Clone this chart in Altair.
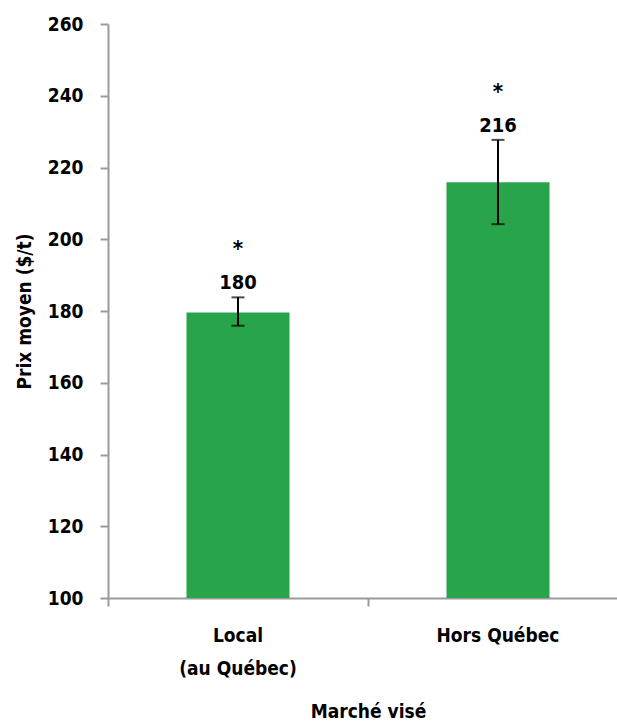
import altair as alt
import pandas as pd

categories = ["Local|(au Québec)", "Hors Québec"]
means = [179.6, 215.9]
lower = [175.9, 204.2]
upper = [183.8, 227.7]
value_labels = ["180", "216"]
signif = ["*", "*"]

df = pd.DataFrame({
    "cat": categories,
    "mean": means,
    "lo": lower,
    "hi": upper,
    "lab": value_labels,
    "sig": signif,
})

FONT = "'DejaVu Sans Condensed', 'Liberation Sans', sans-serif"
AXIS_COLOR = "#9a9a9a"
FS = 19

xenc = alt.X(
    "cat:N",
    sort=categories,
    scale=alt.Scale(domain=categories, range=[0, 520], paddingInner=0, paddingOuter=0),
    axis=alt.Axis(
        title="Marché visé",
        labelExpr="split(datum.label, '|')",
        labelAngle=0,
        bandPosition=0,
        labelLineHeight=33,
        labelPadding=20,
        titlePadding=24,
    ),
)

yscale = alt.Scale(domain=[100, 260], nice=False, zero=False)

bars = alt.Chart(df).mark_bar(color="#28a54b", size=103).encode(
    x=xenc,
    y=alt.Y(
        "mean:Q",
        scale=yscale,
        axis=alt.Axis(
            title="Prix moyen ($/t)",
            values=list(range(100, 261, 20)),
            grid=False,
            labelPadding=17,
            titlePadding=13,
        ),
    ),
    y2=alt.datum(100),
)

rule = alt.Chart(df).mark_rule(color="black", strokeWidth=2).encode(
    x=alt.X("cat:N", sort=categories),
    y=alt.Y("lo:Q", scale=yscale),
    y2="hi:Q",
)
cap_lo = alt.Chart(df).mark_tick(color="black", size=13, thickness=2).encode(
    x=alt.X("cat:N", sort=categories),
    y=alt.Y("lo:Q", scale=yscale),
)
cap_hi = alt.Chart(df).mark_tick(color="black", size=13, thickness=2).encode(
    x=alt.X("cat:N", sort=categories),
    y=alt.Y("hi:Q", scale=yscale),
)
labels = alt.Chart(df).mark_text(
    font=FONT, fontWeight="bold", fontSize=20, color="black", baseline="alphabetic", dy=-8
).encode(
    x=alt.X("cat:N", sort=categories),
    y=alt.Y("hi:Q", scale=yscale),
    text="lab:N",
)
stars = alt.Chart(df).mark_text(
    font=FONT, fontWeight="bold", fontSize=22, color="black", baseline="alphabetic", dy=-41
).encode(
    x=alt.X("cat:N", sort=categories),
    y=alt.Y("hi:Q", scale=yscale),
    text="sig:N",
)

chart = (
    alt.layer(bars, rule, cap_lo, cap_hi, labels, stars)
    .properties(
        width=509,
        height=574,
        autosize=alt.AutoSizeParams(type="none"),
        padding={"left": 108, "top": 24, "right": 0, "bottom": 123},
    )
    .configure_view(stroke=None)
    .configure_axis(
        labelFont=FONT,
        titleFont=FONT,
        labelFontSize=FS,
        titleFontSize=FS,
        labelFontWeight="bold",
        titleFontWeight="bold",
        labelColor="black",
        titleColor="black",
        domainColor=AXIS_COLOR,
        tickColor=AXIS_COLOR,
        domainWidth=2,
        tickWidth=2,
        tickSize=8,
    )
)

chart.save("out.html", embed_options={"renderer": "svg", "actions": False})
